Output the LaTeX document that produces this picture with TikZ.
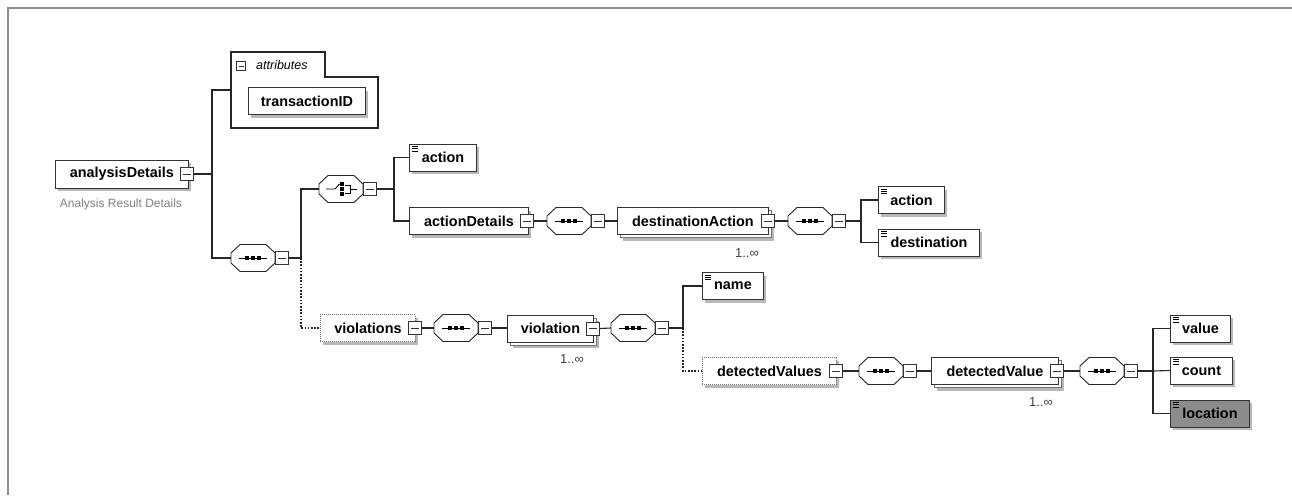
\documentclass[tikz,border=0pt]{standalone}
\usepackage{fontspec}
\setmainfont{Liberation Sans}
\usetikzlibrary{calc}
\newcommand{\elemfont}{\fontsize{14.4}{16}\selectfont\bfseries}
\newcommand{\notefont}{\fontsize{12}{14}\selectfont}
% octagon outline round a compositor node
\newcommand{\octline}[1]{%
    \draw[draw=black!85, fill=white, line width=0.9pt]
        ([shift={(-22,-5)}]#1.center) -- ([shift={(-13,-13.5)}]#1.center) -- ([shift={(13,-13.5)}]#1.center)
        -- ([shift={(22,-5)}]#1.center) -- ([shift={(22,5)}]#1.center) -- ([shift={(13,13.5)}]#1.center)
        -- ([shift={(-13,13.5)}]#1.center) -- ([shift={(-22,5)}]#1.center) -- cycle;}
% sequence and choice marks inside the octagons
\newcommand{\seqsym}[1]{%
    \octline{#1}
    \draw[line width=0.9pt] ([xshift=-14pt]#1.center) -- ([xshift=14pt]#1.center);
    \foreach \d in {-6,0,6} \fill ([shift={(\d,0)}]#1.center) +(-1.9,-1.9) rectangle +(1.9,1.9);}
\newcommand{\choicesym}[1]{%
    \octline{#1}
    \draw[line width=0.9pt] ([shift={(-15,0)}]#1.center) -- ([shift={(-6,0)}]#1.center) -- ([shift={(-1.5,-5)}]#1.center);
    \foreach \d in {-5,0,5} \fill ([shift={(0.8,\d)}]#1.center) +(-1.8,-1.8) rectangle +(1.8,1.8);
    \draw[line width=0.9pt] ([shift={(4,-4)}]#1.center) -- ([shift={(9.5,-4)}]#1.center) -- ([shift={(9.5,4)}]#1.center) -- ([shift={(4,4)}]#1.center);
    \draw[line width=0.9pt] ([shift={(9.5,0)}]#1.center) -- ([shift={(16,0)}]#1.center);}
\newcommand{\typeicon}[1]{%
    \foreach \d in {3,5.3,7.6} \draw[line width=0.8pt] ([shift={(3,\d)}]#1.north west) -- ++(6,0);}
\tikzset{conn/.style={draw=black!85, line width=1.1pt},
    optconn/.style={conn, dash pattern=on 1.6pt off 1.6pt}}

\begin{document}
\begin{tikzpicture}[x=1pt, y=-1pt,
    elem/.style={draw=black!80, fill=white, line width=0.9pt, minimum height=27pt,
        inner sep=0pt, anchor=west, font=\elemfont,
        preaction={fill=black!28, transform canvas={shift={(3pt,-3pt)}}}},
    optelem/.style={elem, draw=black!55, dash pattern=on 1pt off 1pt},
    multi/.style={elem,
        preaction={fill=black!28, transform canvas={shift={(6pt,-6pt)}}},
        preaction={draw=black!55, fill=white, transform canvas={shift={(3pt,-3pt)}}}},
    octo/.style={rectangle, minimum width=44pt, minimum height=27pt, inner sep=0pt},
    minus/.style={draw=black!80, fill=white, line width=0.9pt, minimum size=13pt, inner sep=0pt,
        path picture={\draw[line width=1pt] ([xshift=-3.8pt]path picture bounding box.center)
            -- ([xshift=3.8pt]path picture bounding box.center);}},
    mult/.style={font=\fontsize{13}{15}\selectfont, text=black!75}]
    \useasboundingbox (0,0) rectangle (1292,495);
    % frame
    \draw[black!45, line width=1.2pt] (8,495) -- (8,8) -- (1292,8);

    % root element
    \node[elem, minimum width=133pt, minimum height=28pt] (ad) at (55,174) {analysisDetails};
    \node[font=\notefont, text=black!50] (adnote) at (121,204) {Analysis Result Details};

    % attributes group
    \draw[draw=black!85, line width=1.1pt] (231,52) -- (325,52) -- (325,77) -- (378,77) -- (378,128) -- (231,128) -- cycle;
    \node[minus, minimum size=9pt,
        path picture={\draw[line width=0.8pt] ([xshift=-2.5pt]path picture bounding box.center)
            -- ([xshift=2.5pt]path picture bounding box.center);}] (attm) at (241,66) {};
    \node[anchor=west, font=\fontsize{12.5}{14}\selectfont\itshape, inner sep=0pt] (attl) at (256,65) {attributes};
    \node[elem, minimum width=117pt] (tid) at (248,101) {transactionID};
    \coordinate (attr) at (231,90);

    % main sequence and choice
    \node[octo] (seq1) at (253,258) {};
    \node[octo] (ch) at (341,189) {};
    \node[elem, minimum width=67pt] (act1) at (409,157.5) {action};
    \node[elem, minimum width=119pt] (actd) at (409,221) {actionDetails};
    \node[octo] (seq2) at (569,221) {};
    \node[multi, minimum width=151pt] (dact) at (617,221) {destinationAction};
    \node[mult] (dactn) at (747,253) {1..∞};
    \node[octo] (seq3) at (810,221) {};
    \node[elem, minimum width=66pt] (act2) at (878,200) {action};
    \node[elem, minimum width=101pt] (dest) at (878,242.5) {destination};

    % violations branch
    \node[optelem, minimum width=95pt] (viols) at (320,328) {violations};
    \node[octo] (seq4) at (456,328) {};
    \node[multi, minimum width=86pt] (viol) at (507,328.5) {violation};
    \node[mult] (violn) at (572,359) {1..∞};
    \node[octo] (seq5) at (633,328) {};
    \node[elem, minimum width=61pt] (name) at (702,286) {name};
    \node[optelem, minimum width=134pt] (dvals) at (702,371) {detectedValues};
    \node[octo] (seq6) at (881,371) {};
    \node[multi, minimum width=127pt] (dval) at (931,371) {detectedValue};
    \node[mult] (dvaln) at (1041,402) {1..∞};
    \node[octo] (seq7) at (1102,371) {};
    \node[elem, minimum width=60pt] (value) at (1170,328.5) {value};
    \node[elem, minimum width=62pt] (count) at (1170,370.5) {count};
    \node[elem, minimum width=79pt, fill=black!45] (loc) at (1170,413.5) {location};

    % marks
    \foreach \s in {seq1,seq2,seq3,seq4,seq5,seq6,seq7} {\seqsym{\s}}
    \choicesym{ch}
    \foreach \e in {act1,act2,dest,name,value,count,loc} {\typeicon{\e}}

    % collapse buttons
    \node[minus] (adm) at ([xshift=-2pt]ad.east) {};
    \node[minus] (actdm) at ([xshift=-2pt]actd.east) {};
    \node[minus] (dactm) at ([xshift=-1pt]dact.east) {};
    \node[minus] (violsm) at ([xshift=-1pt]viols.east) {};
    \node[minus] (violm) at ([xshift=-1pt]viol.east) {};
    \node[minus] (dvalsm) at ([xshift=-1pt]dvals.east) {};
    \node[minus] (dvalm) at ([xshift=-2pt]dval.east) {};
    \foreach \s in {seq1,ch,seq2,seq3,seq4,seq5,seq6,seq7}
        \node[minus, anchor=west] (\s m) at (\s.east) {};

    % trunks
    \coordinate (t1) at (212,174);
    \coordinate (t2) at (301,258);
    \coordinate (t3) at (394,189);
    \coordinate (t4) at (861,221);
    \coordinate (t5) at (683,328);
    \coordinate (t6) at (1153,371);

    % connectors
    \draw[conn] (adm.east) -- (t1);
    \draw[conn] (attr) -| (t1) |- (seq1.west);
    \draw[conn] (seq1m.east) -- (t2);
    \draw[conn] (ch.west) -| (t2);
    \draw[optconn] (t2) |- (viols.west);
    \draw[conn] (chm.east) -- (t3);
    \draw[conn] (act1.west) -| (t3) |- (actd.west);
    \draw[conn] (actdm.east) -- (seq2.west);
    \draw[conn] (seq2m.east) -- (dact.west);
    \draw[conn] (dactm.east) -- (seq3.west);
    \draw[conn] (seq3m.east) -- (t4);
    \draw[conn] (act2.west) -| (t4) |- (dest.west);
    \draw[conn] (violsm.east) -- (seq4.west);
    \draw[conn] (seq4m.east) -- (seq4m.east -| viol.west);
    \draw[conn] (violm.east) -- (seq5.west);
    \draw[conn] (seq5m.east) -- (t5);
    \draw[conn] (name.west) -| (t5);
    \draw[optconn] (t5) |- (dvals.west);
    \draw[conn] (dvalsm.east) -- (seq6.west);
    \draw[conn] (seq6m.east) -- (dval.west);
    \draw[conn] (dvalm.east) -- (seq7.west);
    \draw[conn] (seq7m.east) -- (t6);
    \draw[conn] (value.west) -| (t6) |- (loc.west);
    \draw[conn] (t6) -- (count.west);
\end{tikzpicture}
\end{document}
